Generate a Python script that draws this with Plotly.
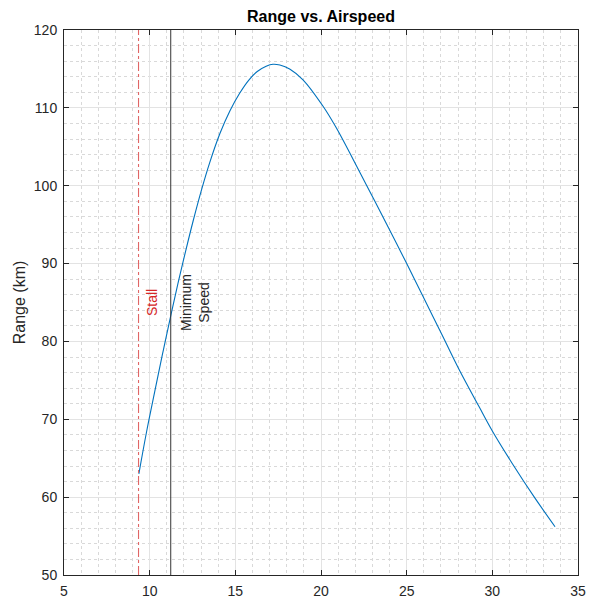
import plotly.graph_objects as go

# Range (km) versus airspeed (m/s)
airspeed = [9.37, 9.82, 10.31, 10.79, 11.28, 11.70, 12.11, 12.54, 13.03, 13.51,
            14.10, 14.68, 15.26, 15.80, 16.30, 16.80, 17.20, 17.60, 18.17, 18.95,
            20.12, 20.90, 21.87, 22.84, 23.82, 24.98, 25.95, 27.12, 28.06, 29.23,
            30.00, 31.20, 32.45, 33.66]
range_km = [63.0, 68.4, 73.7, 78.8, 83.8, 87.9, 91.7, 95.5, 99.5, 103.0,
            106.7, 109.6, 111.9, 113.6, 114.7, 115.35, 115.6, 115.5, 115.0, 113.6,
            110.2, 107.4, 103.4, 99.3, 95.1, 90.1, 85.8, 80.6, 76.4, 71.6,
            68.5, 64.2, 60.0, 56.2]

stall_speed = 9.35
min_speed = 11.23

x_ticks = [5, 10, 15, 20, 25, 30, 35]
y_ticks = [50, 60, 70, 80, 90, 100, 110, 120]

axis_col = "#262626"
font_family = "Liberation Sans, Arial, sans-serif"

fig = go.Figure()

fig.add_trace(go.Scatter(
    x=airspeed, y=range_km, mode="lines",
    line=dict(color="#0072BD", width=1.1, shape="spline", smoothing=1.0),
    showlegend=False, hoverinfo="x+y",
))

# vertical reference lines
fig.add_trace(go.Scatter(
    x=[stall_speed, stall_speed], y=[50, 120], mode="lines",
    line=dict(color="#e06666", width=1.1, dash="dashdot"),
    showlegend=False, hoverinfo="skip",
))
fig.add_trace(go.Scatter(
    x=[min_speed, min_speed], y=[50, 120], mode="lines",
    line=dict(color="#333333", width=1),
    showlegend=False, hoverinfo="skip",
))

fig.add_annotation(
    x=stall_speed + 0.76, y=85, text="Stall", textangle=-90, showarrow=False,
    font=dict(family=font_family, size=14, color="#d62728"),
    xanchor="center", yanchor="middle",
)
fig.add_annotation(
    x=min_speed + 1.38, y=85, text="Minimum<br>Speed", textangle=-90, showarrow=False,
    font=dict(family=font_family, size=14, color="#262626"),
    xanchor="center", yanchor="middle", align="center",
)

common_axis = dict(
    showline=True, linecolor=axis_col, linewidth=1, mirror="allticks",
    ticks="inside", ticklen=5, tickcolor=axis_col, tickwidth=1,
    showgrid=True, gridcolor="#e3e3e3", gridwidth=1,
    zeroline=False, automargin=False,
    tickfont=dict(family=font_family, size=14, color=axis_col),
)

fig.update_xaxes(
    range=[5, 35], tickvals=x_ticks, ticktext=[str(v) for v in x_ticks],
    minor=dict(dtick=1, tick0=5, showgrid=True, gridcolor="#d9d9d9",
               griddash="dot", gridwidth=1, ticks=""),
    ticklabelstandoff=3,
    **common_axis,
)
fig.update_yaxes(
    range=[50, 120], tickvals=y_ticks, ticktext=[str(v) for v in y_ticks],
    minor=dict(dtick=2, tick0=50, showgrid=True, gridcolor="#d9d9d9",
               griddash="dot", gridwidth=1, ticks=""),
    title=dict(text="Range (km)", font=dict(family=font_family, size=16, color=axis_col),
               standoff=4),
    ticklabelstandoff=3,
    **common_axis,
)

fig.update_layout(
    width=592, height=601,
    margin=dict(l=64, r=14, t=30, b=26),
    paper_bgcolor="white", plot_bgcolor="white",
    title=dict(text="<b>Range vs. Airspeed</b>", x=0.5, xref="paper",
               y=1, yref="paper", yanchor="bottom", pad=dict(b=8),
               font=dict(family=font_family, size=16, color="black")),
    font=dict(family=font_family),
)

fig.write_html("out.html")
